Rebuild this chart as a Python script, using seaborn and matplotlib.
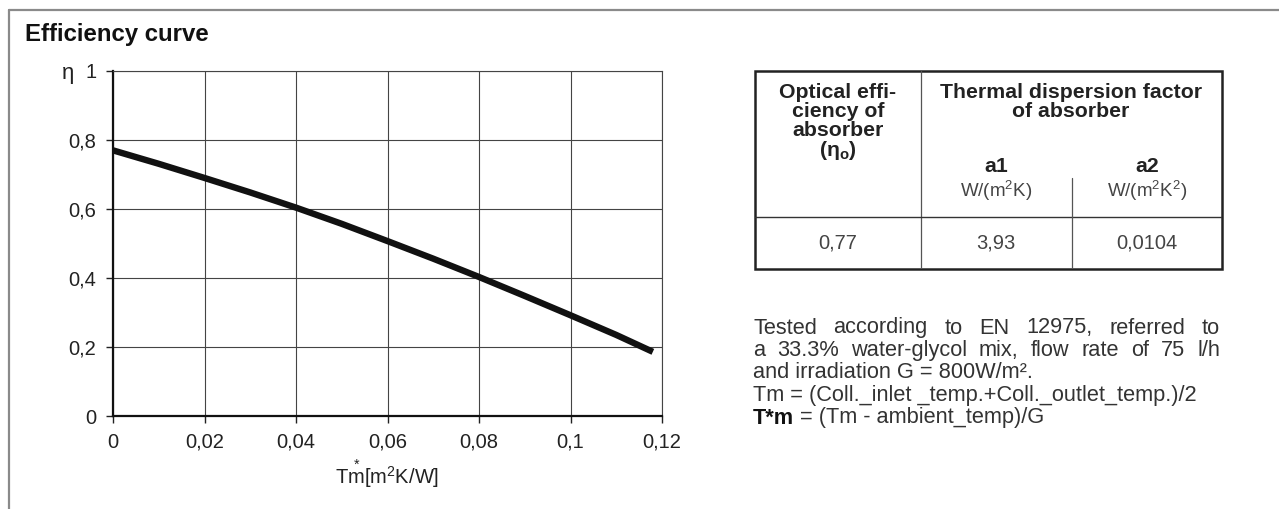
import numpy as np
import matplotlib
matplotlib.use("Agg")
import matplotlib.pyplot as plt
import seaborn as sns

# curve
tm = [0, 0.01, 0.02, 0.03, 0.04, 0.05, 0.06, 0.07, 0.08, 0.09, 0.10, 0.11, 0.118]
eta = [0.77, 0.731, 0.69, 0.648, 0.604, 0.557, 0.507, 0.456, 0.403, 0.348, 0.292, 0.235, 0.186]

xticks = [0, 0.02, 0.04, 0.06, 0.08, 0.10, 0.12]
xtick_labels = ["0", "0,02", "0,04", "0,06", "0,08", "0,1", "0,12"]
yticks = [0, 0.2, 0.4, 0.6, 0.8, 1.0]
ytick_labels = ["0", "0,2", "0,4", "0,6", "0,8", "1"]

# table content
col1_head = ["Optical effi-", "ciency of", "absorber", "(η$_{\\mathregular{o}}$)"]
col2_head = ["Thermal dispersion factor", "of absorber"]
sub_names = ["a1", "a2"]
sub_units = ["W/(m$^{\\mathregular{2}}$K)", "W/(m$^{\\mathregular{2}}$K$^{\\mathregular{2}}$)"]
row_values = ["0,77", "3,93", "0,0104"]

# notes, first two lines are justified in the original
notes_just = ["Tested according to EN 12975, referred to",
              "a 33.3% water-glycol mix, flow rate of 75 l/h"]
notes = ["and irradiation G = 800W/m².",
         "Tm = (Coll._inlet _temp.+Coll._outlet_temp.)/2"]
last_bold = "T*m"
last_rest = " = (Tm - ambient_temp)/G"

sns.set_style("white")
plt.rcParams['font.family'] = ['Liberation Sans', 'DejaVu Sans']
plt.rcParams['mathtext.fontset'] = 'custom'
plt.rcParams['mathtext.rm'] = 'Liberation Sans'
plt.rcParams['mathtext.it'] = 'Liberation Sans:italic'
plt.rcParams['mathtext.bf'] = 'Liberation Sans:bold'

W, H = 1279, 509
fig = plt.figure(figsize=(W / 100, H / 100), dpi=100)
renderer = fig.canvas.get_renderer()

def fx(px):
    return px / W

def fy(py):
    return 1 - py / H

# outer frame (top and left only)
fig.add_artist(plt.Line2D([fx(9), 1], [fy(10), fy(10)], color="#8a8a8a", lw=1.6))
fig.add_artist(plt.Line2D([fx(9), fx(9)], [fy(10), 0], color="#8a8a8a", lw=1.6))

fig.text(fx(25), fy(41), "Efficiency curve", fontsize=17.3, fontweight="bold",
         va="baseline", ha="left", color="#111")

# chart
ax = fig.add_axes([fx(113), fy(416), fx(549), 345 / H])
sns.lineplot(x=tm, y=eta, ax=ax, color="#111", linewidth=4.6, solid_capstyle="butt")
ax.set_xlim(0, 0.12)
ax.set_ylim(0, 1)
ax.set_xticks(xticks)
ax.set_xticklabels(xtick_labels)
ax.set_yticks(yticks)
ax.set_yticklabels(ytick_labels)
ax.grid(True, color="#444", linewidth=0.8)
ax.tick_params(axis="both", direction="out", length=5, width=1, color="#222",
               labelsize=14.5, labelcolor="#222")
ax.tick_params(axis="y", pad=7, left=True)
ax.tick_params(axis="x", pad=7, bottom=True)
for side in ["top", "right"]:
    ax.spines[side].set_color("#444")
    ax.spines[side].set_linewidth(0.8)
for side in ["left", "bottom"]:
    ax.spines[side].set_color("#111")
    ax.spines[side].set_linewidth(1.6)
ax.set_xlabel("T$\\overset{*}{\\mathregular{m}}$[m$^{\\mathregular{2}}$K/W]", fontsize=14.5,
              color="#222", labelpad=4)
fig.text(fx(68), fy(74), "η", fontsize=16, ha="center", va="center", color="#222")

# table
tb = fig.add_axes([fx(755), fy(269), fx(467), 198 / H])
tb.set_xlim(0, 467)
tb.set_ylim(198, 0)
tb.axis("off")
tb.add_patch(plt.Rectangle((0, 0), 467, 198, fill=False, edgecolor="#222", lw=1.8, clip_on=False))
tb.plot([166, 166], [0, 198], color="#555", lw=0.9)
tb.plot([0, 467], [146, 146], color="#333", lw=1.0)
tb.plot([317, 317], [107, 198], color="#555", lw=0.9)

hsize = 15.3
for i, line in enumerate(col1_head):
    tb.text(83, 21 + 19.5 * i, line, fontsize=hsize, fontweight="bold", ha="center", va="center",
            color="#222")
for i, line in enumerate(col2_head):
    tb.text(316, 21 + 19.5 * i, line, fontsize=hsize, fontweight="bold", ha="center", va="center",
            color="#222")
for cx, name, unit in zip([241, 392], sub_names, sub_units):
    tb.text(cx, 96, name, fontsize=hsize, fontweight="bold", ha="center", va="center", color="#222")
    tb.text(cx, 120, unit, fontsize=13.5, ha="center", va="center", color="#444")
for cx, val in zip([83, 241, 392], row_values):
    tb.text(cx, 172, val, fontsize=14.5, ha="center", va="center", color="#444")

# notes
nsize = 15.7
x0, x1 = 753, 1220
ytop = 328
pitch = 22.5
for i, line in enumerate(notes_just):
    words = line.split(" ")
    arts = [fig.text(0, fy(ytop + pitch * i), w, fontsize=nsize, ha="left", va="center", color="#333")
            for w in words]
    widths = [a.get_window_extent(renderer).width for a in arts]
    gap = (x1 - x0 - sum(widths)) / (len(words) - 1)
    xp = x0
    for a, w in zip(arts, widths):
        a.set_x(fx(xp))
        xp += w + gap
for i, line in enumerate(notes):
    fig.text(fx(x0), fy(ytop + pitch * (i + 2)), line, fontsize=nsize, ha="left", va="center",
             color="#333")
t1 = fig.text(fx(x0), fy(ytop + pitch * 4), last_bold, fontsize=nsize, fontweight="bold",
              ha="left", va="center", color="#111")
ax.annotate(last_rest, xy=(1, 0), xycoords=t1, ha="left", va="bottom",
            fontsize=nsize, color="#333", annotation_clip=False)

fig.savefig("out.png", dpi=100)
